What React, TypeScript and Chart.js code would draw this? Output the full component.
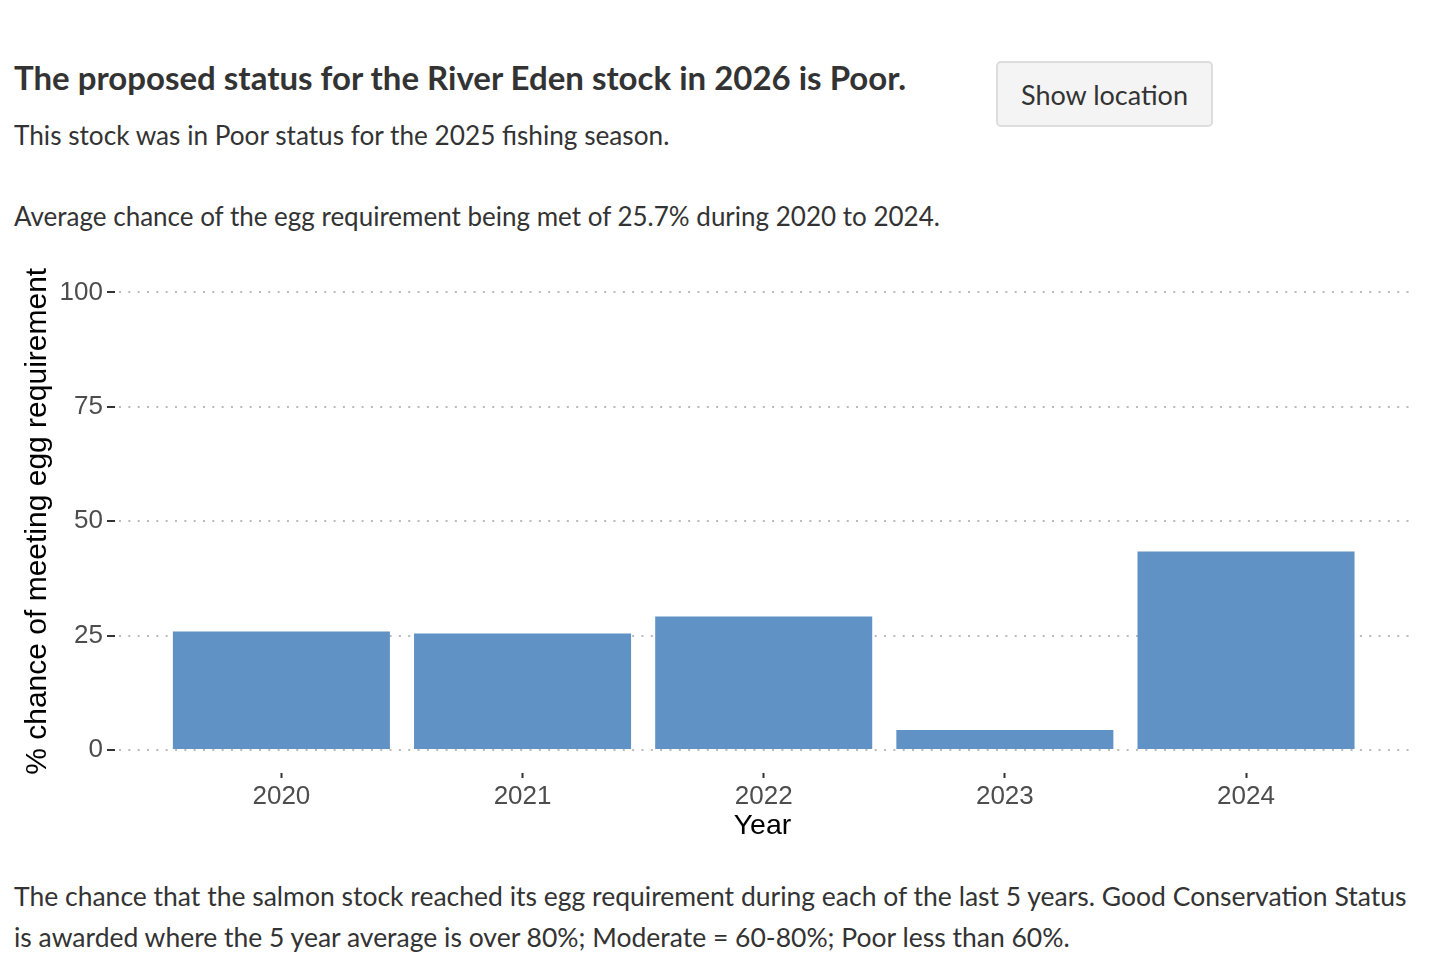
import React, { useEffect, useRef } from "react";
import { Chart, registerables } from "chart.js";

Chart.register(...registerables);

const years: number[] = [2020, 2021, 2022, 2023, 2024];
const chances: number[] = [25.9, 25.5, 29.2, 4.4, 43.4];
const yTicks: number[] = [0, 25, 50, 75, 100];

const TEXT_FONT = "Lato, 'Noto Sans', sans-serif";
const CHART_FONT = "'Liberation Sans', Arial, sans-serif";

function EggChart() {
  const ref = useRef<HTMLCanvasElement | null>(null);
  useEffect(() => {
    if (!ref.current) return;
    const chart = new Chart(ref.current, {
      type: "bar",
      data: {
        datasets: [
          {
            label: "% chance",
            data: years.map((y, i) => ({ x: y, y: chances[i] })),
            backgroundColor: "#6092c6",
            borderWidth: 0,
            barPercentage: 0.9,
            categoryPercentage: 1.0,
          },
        ],
      },
      options: {
        animation: false,
        responsive: true,
        maintainAspectRatio: false,
        layout: { padding: { left: 0, right: 20, top: 18, bottom: 0 } },
        plugins: { legend: { display: false }, tooltip: { enabled: false } },
        scales: {
          x: {
            type: "linear",
            min: 2019.31,
            max: 2024.68,
            offset: false,
            afterBuildTicks: (axis: any) => {
              axis.ticks = years.map((v) => ({ value: v }));
            },
            afterFit: (axis: any) => {
              axis.height = 87;
            },
            grid: {
              offset: false,
              drawOnChartArea: false,
              drawTicks: true,
              tickLength: 5,
              tickColor: "#333333",
              tickWidth: 2,
            },
            border: { display: false },
            ticks: {
              color: "#4d4d4d",
              font: { family: CHART_FONT, size: 26 },
              padding: 3,
              callback: (v: any) => String(v),
              maxRotation: 0,
            },
            title: {
              display: true,
              text: "Year",
              color: "#000000",
              font: { family: CHART_FONT, size: 28.5 },
              padding: { top: 0, bottom: 17 },
            },
          },
          y: {
            type: "linear",
            min: -5,
            max: 105,
            afterBuildTicks: (axis: any) => {
              axis.ticks = yTicks.map((v) => ({ value: v }));
            },
            afterFit: (axis: any) => {
              axis.width = 115;
            },
            grid: {
              color: "#bababa",
              lineWidth: 2,
              drawTicks: true,
              tickLength: 8,
              tickColor: "#333333",
              tickWidth: 2,
              tickBorderDash: [],
            },
            border: { display: false, dash: [2, 7.33], dashOffset: -4 },
            ticks: {
              color: "#4d4d4d",
              font: { family: CHART_FONT, size: 26 },
              padding: 4,
              callback: (v: any) => String(v),
            },
            title: {
              display: true,
              text: "% chance of meeting egg requirement",
              color: "#000000",
              font: { family: CHART_FONT, size: 30 },
              padding: { top: 20, bottom: 0 },
            },
          },
        },
      },
    });
    return () => chart.destroy();
  }, []);
  return (
    <div style={{ position: "absolute", left: 0, top: 250, width: 1430, height: 610 }}>
      <canvas ref={ref} />
    </div>
  );
}

export default function App() {
  const text: React.CSSProperties = {
    position: "absolute",
    left: 14,
    margin: 0,
    fontFamily: TEXT_FONT,
    color: "#333333",
    whiteSpace: "nowrap",
  };
  return (
    <div style={{ position: "relative", width: 1442, height: 976, background: "#ffffff", margin: -8 }}>
      <div style={{ ...text, top: 57, fontSize: 33, fontWeight: 700, lineHeight: "40px" }}>
        The proposed status for the River Eden stock in 2026 is Poor.
      </div>
      <div style={{ ...text, top: 118, fontSize: 26.2, lineHeight: "34px" }}>
        This stock was in Poor status for the 2025 fishing season.
      </div>
      <div style={{ ...text, top: 199, fontSize: 26, lineHeight: "34px" }}>
        Average chance of the egg requirement being met of 25.7% during 2020 to 2024.
      </div>
      <div
        style={{
          position: "absolute",
          left: 996,
          top: 61,
          width: 217,
          height: 66,
          boxSizing: "border-box",
          background: "#f4f4f4",
          border: "2px solid #dddddd",
          borderRadius: 5,
          display: "flex",
          alignItems: "center",
          justifyContent: "center",
          fontFamily: TEXT_FONT,
          fontSize: 27,
          color: "#333333",
        }}
      >
        Show location
      </div>
      <EggChart />
      <div style={{ ...text, top: 876, fontSize: 26.5, lineHeight: "41px" }}>
        The chance that the salmon stock reached its egg requirement during each of the last 5 years. Good Conservation Status
        <br />
        is awarded where the 5 year average is over 80%; Moderate = 60-80%; Poor less than 60%.
      </div>
    </div>
  );
}
